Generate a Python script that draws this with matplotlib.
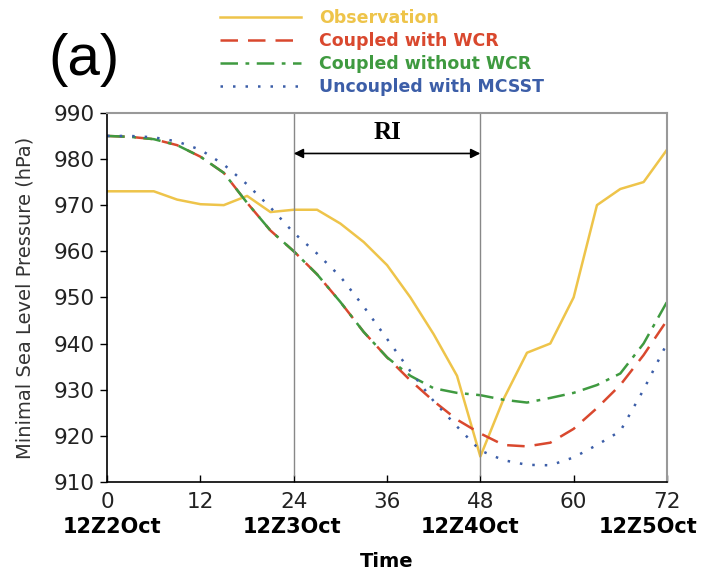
import matplotlib.pyplot as plt
from matplotlib.lines import Line2D

# 3-hourly time axis (hours from 12Z 2 Oct)
hours = list(range(0, 73, 3))

observation = [973, 973, 973, 971.2, 970.2, 970, 972, 968.5, 969, 969, 966, 962,
               957, 950, 942, 933, 915.5, 928, 938, 940, 950, 970, 973.5, 975, 982]
coupled_wcr = [985, 984.8, 984.3, 983, 980.5, 977, 970.5, 964.5, 960, 955, 949, 942.5,
               937, 932, 927.5, 923.5, 920.5, 918, 917.7, 918.5, 921.5, 926, 931, 937.5, 945]
coupled_no_wcr = [985, 984.8, 984.3, 983, 980.5, 977, 970.5, 964.5, 960, 955, 949, 942.5,
                  937, 933, 930.3, 929.3, 928.8, 927.8, 927.2, 928.2, 929.3, 931, 933.5, 940, 949]
uncoupled = [985, 985, 984.7, 983.8, 982, 978.8, 974.5, 969.5, 964, 959.5, 954.5, 948,
             941, 934, 927.5, 922, 916.8, 914.7, 913.7, 913.6, 915.3, 918, 921, 930, 940]

xticks = [0, 12, 24, 36, 48, 60, 72]
yticks = [910, 920, 930, 940, 950, 960, 970, 980, 990]
date_pos = [0, 24, 48, 72]
date_labels = ['12Z2Oct', '12Z3Oct', '12Z4Oct', '12Z5Oct']
ri_start, ri_end = 24, 48

c_obs = '#eec44a'
c_red = '#d9482e'
c_green = '#3f9a40'
c_blue = '#3c5ea8'

fig = plt.figure(figsize=(7.05, 5.73), dpi=100)
ax = fig.add_axes([0.152, 0.159, 0.794, 0.644])

ax.plot(hours, observation, color=c_obs, lw=1.8)
ax.plot(hours, coupled_wcr, color=c_red, lw=1.8, dashes=(7, 4))
ax.plot(hours, coupled_no_wcr, color=c_green, lw=1.8, dashes=(7, 3, 1.5, 3))
ax.plot(hours, uncoupled, color=c_blue, lw=1.8, dashes=(1, 4))

# RI period
for h in (ri_start, ri_end):
    ax.vlines(h, 911.2, 990, color='#888888', lw=1.0)
ax.annotate('', xy=(ri_start, 981.2), xytext=(ri_end, 981.2),
            arrowprops=dict(arrowstyle='<|-|>', color='black', lw=1.2,
                            mutation_scale=14, shrinkA=0, shrinkB=0))
ax.text((ri_start + ri_end) / 2, 985.8, 'RI', ha='center', va='center',
        fontsize=18, fontweight='bold', family='Liberation Serif')

ax.set_xlim(0, 72)
ax.set_ylim(910, 990)
ax.set_xticks(xticks)
ax.set_yticks(yticks)
ax.tick_params(axis='x', direction='in', length=5, width=1, labelsize=15.5, pad=7)
ax.tick_params(axis='y', direction='out', length=5, width=1, labelsize=15.5, pad=4)
for lab in ax.get_xticklabels() + ax.get_yticklabels():
    lab.set_color('#222222')
for s in ('top', 'right'):
    ax.spines[s].set_color('#999999')
    ax.spines[s].set_linewidth(1.5)
for s in ('left', 'bottom'):
    ax.spines[s].set_linewidth(1.2)

# date labels under the hour ticks (slightly shifted as in the original)
date_shift = [3.6, -1.4, -7.2, -13.7]
for p, lab, dx in zip(date_pos, date_labels, date_shift):
    ax.annotate(lab, xy=(p, 900.3), xytext=(dx, 0), textcoords='offset points',
                ha='center', va='center', fontsize=15, fontweight='bold',
                annotation_clip=False)

ax.set_xlabel('Time', fontsize=14, fontweight='bold', labelpad=29)
ax.set_ylabel('Minimal Sea Level Pressure (hPa)', fontsize=14, color='#333333', labelpad=14)

# legend above the plot
handles = [Line2D([], [], color=c_obs, lw=1.8),
           Line2D([], [], color=c_red, lw=1.8, dashes=(7, 4)),
           Line2D([], [], color=c_green, lw=1.8, dashes=(7, 3, 1.5, 3)),
           Line2D([], [], color=c_blue, lw=1.8, dashes=(1, 4))]
labels = ['Observation', 'Coupled with WCR', 'Coupled without WCR', 'Uncoupled with MCSST']
leg = fig.legend(handles, labels, loc='upper left', bbox_to_anchor=(0.302, 0.997),
                 frameon=False, fontsize=12.5, handlelength=4.7, handletextpad=1.0,
                 labelspacing=0.3, borderaxespad=0)
for t, c in zip(leg.get_texts(), [c_obs, c_red, c_green, c_blue]):
    t.set_color(c)
    t.set_fontweight('bold')

fig.text(0.068, 0.895, '(a)', fontsize=42, va='center', ha='left', family='Liberation Sans')

fig.savefig('out.png', dpi=100)
